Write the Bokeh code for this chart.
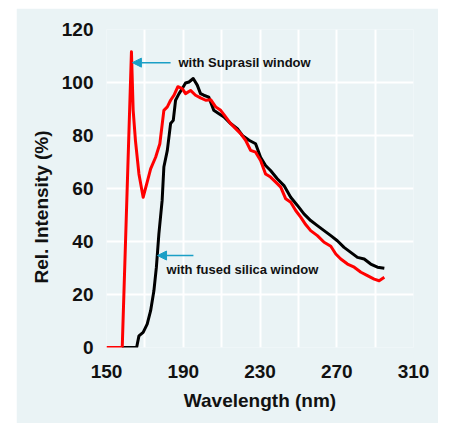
from bokeh.plotting import figure
from bokeh.models import FixedTicker, Label, Arrow, NormalHead, Title, Spacer
from bokeh.layouts import column, row
from bokeh.embed import file_html
from bokeh.resources import INLINE

# Red: with Suprasil window
suprasil_wl = [150, 158.2, 163.0, 163.9, 165.1, 166.9, 169.1, 171.2, 173.0, 175.6, 177.8,
               179.9, 181.7, 183.4, 185.2, 187.2, 189.5, 191.2, 193.8, 196.4, 199.0, 201.7,
               204.3, 206.9, 209.5, 212.1, 214.7, 217.3, 219.9, 222.5, 225.1, 227.7, 230.3,
               232.9, 235.5, 238.2, 240.8, 243.4, 246.0, 248.6, 251.2, 253.8, 256.4, 259.9,
               263.4, 266.9, 269.5, 272.1, 275.6, 279.1, 282.6, 286.0, 289.5, 292.1, 294.8]
suprasil_int = [0, 0, 111.6, 89.5, 78.0, 65.5, 56.7, 62.4, 67.4, 71.8, 76.9,
                89.5, 90.8, 93.3, 95.2, 98.4, 97.7, 95.8, 97.0, 95.2, 94.2, 93.3,
                93.5, 90.8, 89.5, 87.0, 84.5, 82.6, 80.7, 78.2, 74.4, 73.7, 70.6,
                65.5, 64.3, 62.4, 60.5, 56.1, 54.8, 51.7, 49.2, 46.4, 44.1, 42.2,
                39.7, 38.2, 35.3, 33.4, 31.5, 30.3, 28.4, 27.1, 25.8, 25.2, 26.5]

# Black: with fused silica window
fused_wl = [158.0, 165.7, 166.9, 169.1, 171.2, 173.0, 174.7, 176.0, 177.3, 179.0, 179.9,
            181.7, 183.4, 184.8, 186.0, 187.8, 189.5, 191.2, 193.0, 195.2, 197.3, 199.0,
            200.7, 203.3, 204.3, 205.9, 208.6, 211.2, 214.7, 218.2, 220.8, 224.3, 227.7,
            230.3, 232.9, 235.5, 239.0, 242.5, 246.0, 249.5, 252.9, 256.4, 259.9, 263.4,
            266.9, 270.3, 273.8, 277.3, 280.8, 284.3, 287.7, 291.2, 294.8]
fused_int = [0, 0, 4.4, 5.7, 8.8, 13.9, 21.4, 30.3, 42.9, 55.5, 68.1,
             74.4, 84.5, 85.7, 93.3, 95.8, 97.7, 99.8, 100.2, 101.5, 99.0, 95.8,
             95.2, 94.5, 92.6, 89.5, 88.2, 87.0, 84.5, 82.6, 80.0, 78.2, 76.9,
             71.8, 68.7, 66.8, 63.7, 61.1, 56.7, 53.6, 50.4, 47.9, 46.0, 44.1,
             42.2, 40.3, 37.8, 35.9, 34.0, 33.4, 31.5, 30.3, 29.9]

x_tick_labels = [150, 190, 230, 270, 310]
x_grid = [150, 170, 190, 210, 230, 250, 270, 290, 310]
y_ticks = [0, 20, 40, 60, 80, 100, 120]

BG = "#EAF3F5"
FONT = "Liberation Sans"
TXT = "#111111"
CYAN = "#1A9FC6"

p = figure(width=422, height=415, x_range=(150, 310), y_range=(0, 120),
           output_backend="svg", toolbar_location=None,
           min_border_left=90, min_border_right=25, min_border_top=21, min_border_bottom=76)
p.background_fill_color = BG
p.border_fill_color = BG
p.outline_line_color = None

p.xaxis.ticker = FixedTicker(ticks=x_tick_labels)
p.yaxis.ticker = FixedTicker(ticks=y_ticks)
p.xgrid.ticker = FixedTicker(ticks=x_grid)
p.ygrid.ticker = FixedTicker(ticks=y_ticks)
for g in (p.xgrid, p.ygrid):
    g.grid_line_color = "white"
    g.grid_line_width = 2
    g.grid_line_alpha = 1.0

for ax in (p.xaxis, p.yaxis):
    ax.axis_line_color = None
    ax.major_tick_line_color = None
    ax.minor_tick_line_color = None
    ax.major_label_text_font = FONT
    ax.major_label_text_font_style = "bold"
    ax.major_label_text_font_size = "19px"
    ax.major_label_text_color = TXT

p.xaxis.major_label_standoff = 11
p.yaxis.major_label_standoff = 7
p.xaxis.axis_label = "Wavelength (nm)"
p.xaxis.axis_label_text_font = FONT
p.xaxis.axis_label_text_font_style = "bold"
p.xaxis.axis_label_text_font_size = "19px"
p.xaxis.axis_label_text_color = TXT
p.xaxis.axis_label_standoff = 9

# y-axis title, offset downward as in the original
p.add_layout(Title(text="Rel. Intensity (%)", align="left", offset=64, standoff=14,
                   text_font=FONT, text_font_style="bold", text_font_size="19px",
                   text_color=TXT), "left")

p.line(fused_wl, fused_int, line_color="black", line_width=3, line_join="round")
p.line(suprasil_wl, suprasil_int, line_color="#FF0000", line_width=3, line_join="round")

# annotations
p.add_layout(Arrow(x_start=183.4, y_start=107.5, x_end=163.5, y_end=107.5,
                   line_color=CYAN, line_width=1.5,
                   end=NormalHead(size=9, fill_color=CYAN, line_color=CYAN)))
p.add_layout(Label(x=187.5, y=107.5, text="with Suprasil window", text_baseline="middle",
                   text_font=FONT, text_font_style="bold", text_font_size="13px",
                   text_color=TXT))
p.add_layout(Arrow(x_start=195.3, y_start=34.7, x_end=176.6, y_end=34.7,
                   line_color=CYAN, line_width=1.5,
                   end=NormalHead(size=9, fill_color=CYAN, line_color=CYAN)))
p.add_layout(Label(x=181.3, y=29.4, text="with fused silica window", text_baseline="middle",
                   text_font=FONT, text_font_style="bold", text_font_size="13px",
                   text_color=TXT))

layout = column(Spacer(height=8), row(Spacer(width=16), p))
open("out.html", "w").write(file_html(layout, INLINE))
